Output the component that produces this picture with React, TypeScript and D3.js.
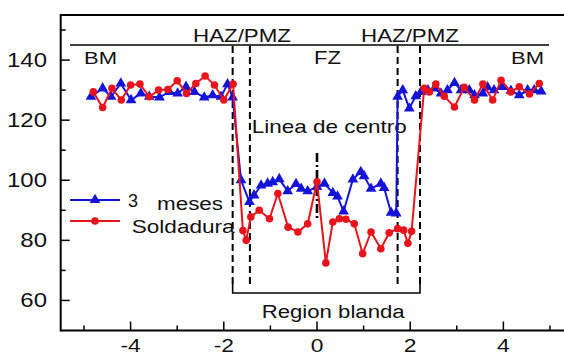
import React from "react";
import * as d3 from "d3";

// ---- data (mm, microhardness) ----
const soldaduraX = [-4.8, -4.6, -4.4, -4.2, -4.0, -3.8, -3.6, -3.4, -3.2, -3.0, -2.8, -2.6, -2.4, -2.2, -2.0, -1.8,
  -1.59, -1.52, -1.42, -1.24, -1.02, -0.84, -0.62, -0.41, -0.2, 0.0, 0.19, 0.34, 0.48, 0.62, 0.8, 0.98, 1.16, 1.37, 1.55, 1.73, 1.86, 1.95, 2.03,
  2.3, 2.41, 2.55, 2.73, 2.95, 3.16, 3.38, 3.56, 3.77, 3.95, 4.16, 4.34, 4.56, 4.77];
const soldaduraY = [129.4, 124.2, 130.6, 126.7, 131.7, 132.0, 127.8, 130.0, 130.2, 133.1, 128.9, 132.2, 134.7, 131.7, 126.7, 132.0,
  83.3, 80.0, 87.8, 90.0, 87.2, 95.6, 84.4, 82.8, 85.5, 99.5, 72.5, 86.1, 87.2, 87.0, 85.5, 75.6, 82.8, 77.2, 82.5, 83.9, 83.4, 79.0, 83.0,
  130.6, 129.4, 132.0, 128.0, 124.4, 130.9, 126.7, 132.0, 126.7, 133.3, 129.4, 131.1, 128.7, 132.2];

const mesesX = [-4.85, -4.6, -4.42, -4.21, -3.99, -3.78, -3.6, -3.38, -3.17, -2.99, -2.81, -2.63, -2.42, -2.24, -2.06, -1.92, -1.81,
  -1.63, -1.45, -1.35, -1.2, -1.06, -0.95, -0.81, -0.63, -0.45, -0.34, -0.2, 0.0, 0.16, 0.34, 0.44, 0.57, 0.77, 0.94, 1.01, 1.16, 1.37, 1.44, 1.59, 1.7,
  1.73, 1.84, 1.98, 2.12, 2.23, 2.38, 2.52, 2.66, 2.8, 2.95, 3.09, 3.27, 3.38, 3.56, 3.66, 3.8, 3.98, 4.16, 4.34, 4.52, 4.66, 4.81];
const mesesY = [127.8, 130.6, 127.8, 132.2, 126.7, 128.9, 127.8, 127.6, 129.4, 128.9, 131.1, 129.4, 127.6, 128.3, 127.8, 132.0, 127.6,
  100.0, 92.8, 95.0, 98.3, 98.9, 99.4, 100.4, 96.4, 98.8, 97.2, 96.4, 97.8, 98.9, 95.8, 94.6, 89.6, 100.3, 102.8, 101.4, 97.2, 98.9, 97.5, 89.2, 89.0,
  127.8, 130.0, 123.9, 128.0, 129.4, 130.0, 130.6, 128.9, 130.0, 132.4, 130.0, 130.0, 128.3, 128.9, 131.0, 130.0, 131.1, 129.8, 128.3, 130.0, 130.0, 129.6];

const yMajor = [60, 80, 100, 120, 140];
const yMinor = [70, 90, 110, 130, 150];
const xMajor = [-4, -2, 0, 2, 4];
const xMinor = [-5, -3, -1, 1, 3, 5];
const zoneBounds = [-1.81, -1.44, 1.73, 2.21];
const seriesNames = ["3", "meses", "Soldadura"];

const W = 564, H = 357;
const FONT = "'Liberation Sans', Arial, Helvetica, sans-serif";
const BLUE = "#1414d8";
const RED = "#e8141c";

export default function App() {
  const x = d3.scaleLinear().domain([-5.5, 5.5]).range([60.7, 60.7 + 11 * 46.6]);
  const y = d3.scaleLinear().domain([50, 155]).range([330.5, 15]);
  const line = d3.line<[number, number]>().x(d => x(d[0])).y(d => y(d[1]));
  const red: [number, number][] = soldaduraX.map((v, i) => [v, soldaduraY[i]]);
  const blue: [number, number][] = mesesX.map((v, i) => [v, mesesY[i]]);
  const tri = d3.symbol().type(d3.symbolTriangle).size(50)();
  const x0 = x.range()[0];
  const yBottom = y(50), yTop = y(155);

  return (
    <svg width={W} height={H} style={{ position: "absolute", left: 0, top: 0, background: "#fff" }} fontFamily={FONT}>
      {/* frame */}
      <line x1={x0} x2={W + 10} y1={yTop} y2={yTop} stroke="#000" strokeWidth={2.2} />
      <line x1={x0} x2={W + 10} y1={yBottom} y2={yBottom} stroke="#000" strokeWidth={2} />
      <line x1={x0} x2={x0} y1={yTop - 1} y2={yBottom + 1} stroke="#000" strokeWidth={2} />
      {/* y ticks */}
      {yMajor.map(v => (
        <g key={"ym" + v}>
          <line x1={x0} x2={x0 + 9} y1={y(v)} y2={y(v)} stroke="#000" strokeWidth={1.5} />
          <text transform={`translate(47,${y(v) + 7}) scale(1.2,1)`} textAnchor="end" fontSize={20} fill="#111">{v}</text>
        </g>
      ))}
      {yMinor.map(v => (
        <line key={"yn" + v} x1={x0} x2={x0 + 5} y1={y(v)} y2={y(v)} stroke="#000" strokeWidth={1.5} />
      ))}
      {/* x ticks */}
      {xMajor.map(v => (
        <g key={"xm" + v}>
          <line x1={x(v)} x2={x(v)} y1={yBottom} y2={yBottom - 9} stroke="#000" strokeWidth={1.5} />
          <text transform={`translate(${x(v)},352) scale(1.2,1)`} textAnchor="middle" fontSize={19} fill="#111">{v}</text>
        </g>
      ))}
      {xMinor.map(v => (
        <line key={"xn" + v} x1={x(v)} x2={x(v)} y1={yBottom} y2={yBottom - 5} stroke="#000" strokeWidth={1.5} />
      ))}

      {/* zone header */}
      <line x1={70} x2={549} y1={45} y2={45} stroke="#000" strokeWidth={1.4} />
      <text x={242} y={42} textAnchor="middle" fontSize={19} textLength={98} lengthAdjust="spacingAndGlyphs" fill="#111">HAZ/PMZ</text>
      <text x={410} y={42} textAnchor="middle" fontSize={19} textLength={98} lengthAdjust="spacingAndGlyphs" fill="#111">HAZ/PMZ</text>
      <text x={84} y={64} fontSize={17} textLength={33} lengthAdjust="spacingAndGlyphs" fill="#111">BM</text>
      <text x={314} y={63.5} fontSize={18} textLength={27} lengthAdjust="spacingAndGlyphs" fill="#111">FZ</text>
      <text x={511} y={63.5} fontSize={17} textLength={33} lengthAdjust="spacingAndGlyphs" fill="#111">BM</text>

      {/* zone dashed boundaries */}
      {zoneBounds.map((b, i) => (
        <line key={"zb" + i} x1={x(b)} x2={x(b)} y1={46} y2={284} stroke="#000" strokeWidth={2} strokeDasharray="7,4" />
      ))}
      {/* region blanda bracket */}
      <path d={`M${x(zoneBounds[0])},284 V293 H${x(zoneBounds[3])} V284`} fill="none" stroke="#000" strokeWidth={1.6} />
      <text x={261.7} y={318} fontSize={18} textLength={143} lengthAdjust="spacingAndGlyphs" fill="#111">Region blanda</text>

      {/* center line */}
      <line x1={x(0)} x2={x(0)} y1={153} y2={218} stroke="#000" strokeWidth={2.6} strokeDasharray="9,3,2,3" />
      <text x={251.7} y={133} fontSize={19} textLength={155} lengthAdjust="spacingAndGlyphs" fill="#111">Linea de centro</text>

      {/* series */}
      <path d={line(blue) || ""} fill="none" stroke={BLUE} strokeWidth={2} />
      {blue.map((d, i) => (
        <path key={"b" + i} d={tri || ""} transform={`translate(${x(d[0])},${y(d[1])})`} fill={BLUE} />
      ))}
      <path d={line(red) || ""} fill="none" stroke={RED} strokeWidth={2} />
      {red.map((d, i) => (
        <circle key={"r" + i} cx={x(d[0])} cy={y(d[1])} r={3.8} fill={RED} />
      ))}

      {/* legend */}
      <line x1={70} x2={120} y1={200} y2={200} stroke={BLUE} strokeWidth={2} />
      <path d={tri || ""} transform="translate(95,200)" fill={BLUE} />
      <text x={128} y={207} fontSize={18} fill="#111">{seriesNames[0]}</text>
      <text x={157} y={210} fontSize={18} textLength={66} lengthAdjust="spacingAndGlyphs" fill="#111">{seriesNames[1]}</text>
      <line x1={70} x2={120} y1={221} y2={221} stroke={RED} strokeWidth={2} />
      <circle cx={95} cy={221} r={3.8} fill={RED} />
      <text x={131.7} y={233} fontSize={18} textLength={103} lengthAdjust="spacingAndGlyphs" fill="#111">{seriesNames[2]}</text>
    </svg>
  );
}
